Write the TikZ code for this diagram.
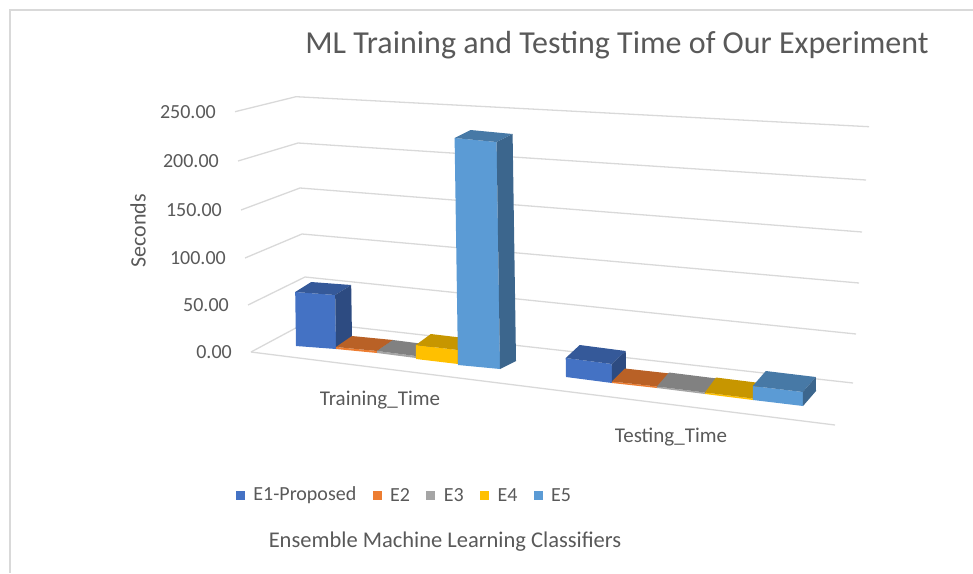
\documentclass[tikz,border=0pt]{standalone}
\usepackage{fontspec}
\setmainfont{Carlito}
\usepackage{tikz}
\usetikzlibrary{calc,positioning}

\definecolor{E1}{HTML}{4472C4}
\definecolor{E2}{HTML}{ED7D31}
\definecolor{E3}{HTML}{A5A5A5}
\definecolor{E4}{HTML}{FFC000}
\definecolor{E5}{HTML}{5B9BD5}
\definecolor{gridgrey}{HTML}{D9D9D9}
\definecolor{txtgrey}{HTML}{595959}

% one 3-D column: front face, top and right side
% #1,#2 front bottom-left, #3 width, #4 drop of bottom edge, #5 height, #6 depth, #7 colour
\newcommand\colbar[7]{%
  \coordinate (bl) at (#1,#2);
  \coordinate (br) at ($(bl)+(#3,#4)$);
  \coordinate (tl) at ($(bl)+(-0.015*#5,-#5)$);
  \coordinate (tr) at ($(br)+(-0.015*#5,-#5)$);
  \fill[#7] (bl) -- (br) -- (tr) -- (tl) -- cycle;
  \fill[#7!78!black] (tl) -- (tr) -- ($(tr)+(#6)$) -- ($(tl)+(#6)$) -- cycle;
  \fill[#7!66!black] (br) -- (tr) -- ($(tr)+(#6)$) -- ($(br)+(#6)$) -- cycle;
}

\begin{document}
\begin{tikzpicture}[x=1pt, y=-1pt,
  frame/.style={draw=gridgrey, line width=2pt},
  grid/.style={draw=gridgrey, line width=1.3pt},
  lbl/.style={text=txtgrey, font=\fontsize{20}{24}\selectfont, inner sep=1pt},
  biglbl/.style={lbl, font=\fontsize{22}{26}\selectfont},
  tick/.style={lbl, anchor=east},
  key/.style={minimum size=9pt, inner sep=0pt},
  legtext/.style={lbl, anchor=west}]
\useasboundingbox (0,0) rectangle (973,573);
\draw[frame] (973,10) -- (10,10) -- (10,573);

% back wall, side wall and floor
\foreach \a/\b/\c in {{235,111.7}/{296,96.7}/{869,126.7},
                      {238,161}/{298,143}/{866,180},
                      {241,210}/{300,188}/{862,232},
                      {245,258}/{302,234}/{859,283},
                      {248,305}/{305,277}/{856,334},
                      {251,352}/{307,322}/{853,383}}
  \draw[grid] (\a) -- (\b) -- (\c);
\draw[grid] (251,352) -- (835,425);

% value axis
\foreach \v/\x/\y [count=\i] in {250.00/235/111.7, 200.00/238/161, 150.00/241/210,
                                 100.00/245/258, 50.00/248/305, 0.00/251/352}
  \node[tick] (tick\i) at (\x-18,\y) {\v};
\node[biglbl, rotate=90] (ytitle) at (138,231) {Seconds};

% Training_Time
\colbar{296}{346}{40}{3}{54}{16,-10}{E1}
\colbar{336}{349}{41}{4}{2}{16,-11}{E2}
\colbar{377}{353}{39}{5}{2}{16,-11}{E3}
\colbar{416}{359}{42}{5}{14}{15,-11}{E4}
\colbar{458}{365}{42}{4}{227}{16,-8}{E5}

% Testing_Time
\colbar{566}{377}{46}{6}{19}{14,-13}{E1}
\colbar{612}{383}{45}{5}{1.5}{13,-13}{E2}
\colbar{657}{388}{48}{6}{1.5}{12,-14}{E3}
\colbar{705}{394}{48}{6}{1.5}{11,-15}{E4}
\colbar{753}{400}{50}{6}{14}{13,-15}{E5}

\node[lbl, font=\fontsize{21}{25}\selectfont] (train) at (380,400) {Training\_Time};
\node[lbl, font=\fontsize{21}{25}\selectfont] (test) at (671,437) {Testing\_Time};

\node[lbl, font=\fontsize{32}{38}\selectfont] (title) at (617,45)
  {ML Training and Testing Time of Our Experiment};

% legend
\node[key, fill=E1] (k1) at (240.5,495.5) {};
\node[legtext, right=7pt of k1] (l1) {E1-Proposed};
\node[key, fill=E2, right=15pt of l1] (k2) {};
\node[legtext, right=7pt of k2] (l2) {E2};
\node[key, fill=E3, right=15pt of l2] (k3) {};
\node[legtext, right=7pt of k3] (l3) {E3};
\node[key, fill=E4, right=15pt of l3] (k4) {};
\node[legtext, right=7pt of k4] (l4) {E4};
\node[key, fill=E5, right=15pt of l4] (k5) {};
\node[legtext, right=7pt of k5] (l5) {E5};

\node[lbl, font=\fontsize{22.5}{27}\selectfont] (xtitle) at (445,542)
  {Ensemble Machine Learning Classifiers};
\end{tikzpicture}
\end{document}
